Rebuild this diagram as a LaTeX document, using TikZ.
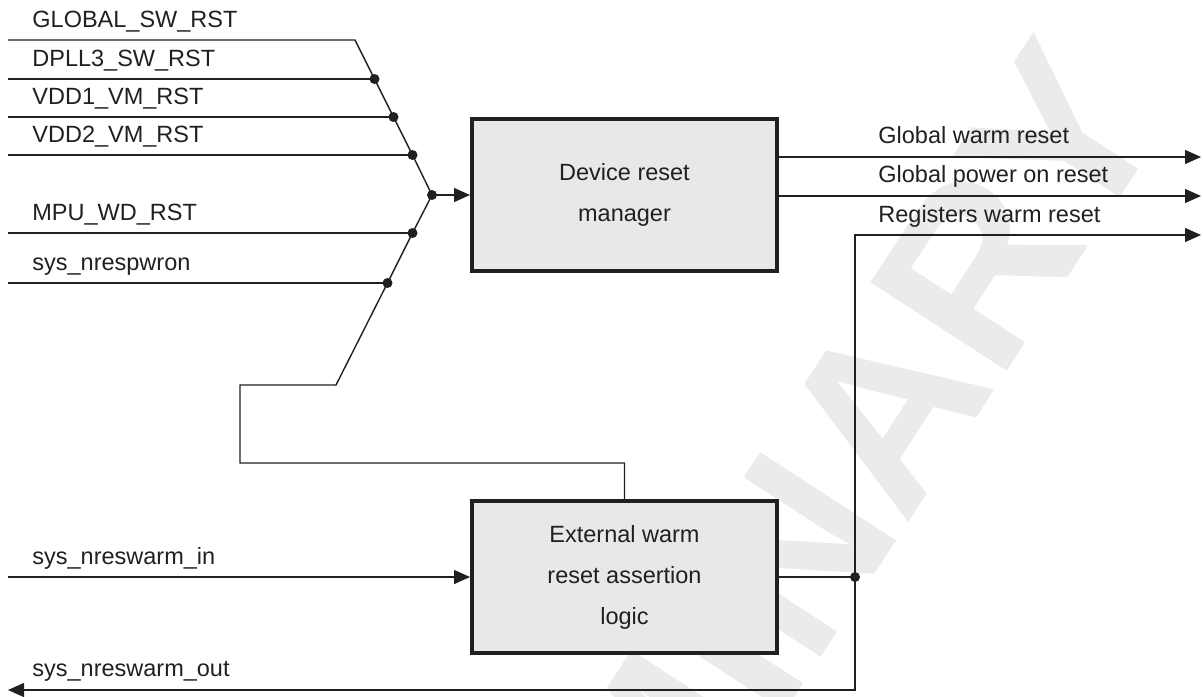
\documentclass[tikz,border=0pt]{standalone}
\usepackage{fontspec}
\setmainfont{Liberation Sans}
\usetikzlibrary{arrows.meta}
\definecolor{inkgray}{HTML}{231F20}
\definecolor{boxgray}{HTML}{E8E8EA}
\definecolor{wmgray}{HTML}{EBEBEB}
\tikzset{
  sig/.style    = {draw=inkgray,line width=0.7pt},
  sigarr/.style = {sig,-{Triangle[length=8pt,width=7pt]}},
  blk/.style    = {draw=inkgray,line width=2pt,fill=boxgray,minimum width=152.5pt,
                   minimum height=76pt,inner sep=0pt,align=center,text=inkgray,
                   font=\fontsize{11.75pt}{20.5pt}\selectfont},
  lbl/.style    = {anchor=base west,inner sep=0pt,text=inkgray,
                   font=\fontsize{11.75pt}{14pt}\selectfont},
  jdot/.style   = {fill=inkgray}
}

\begin{document}
\begin{tikzpicture}[x=0.5pt,y=-0.5pt]
  \useasboundingbox (0,0) rectangle (1203,696);
  \clip (0,0) rectangle (1203,696);
  % watermark
  \node[rotate=57,anchor=base east,inner sep=0pt,text=wmgray,
        font=\fontsize{118pt}{120pt}\bfseries\selectfont] (wm) at (1172,117) {PRELIMINARY};

  % blocks
  \node[blk] (drm) at (624.5,195) {Device reset\\manager};
  \node[blk] (ewr) at (624.5,577) {External warm\\reset assertion\\logic};

  % reset inputs
  \node[lbl] (lgsw)  at (32,27)  {GLOBAL\_SW\_RST};
  \node[lbl] (ldpll) at (32,66)  {DPLL3\_SW\_RST};
  \node[lbl] (lvdd1) at (32,104) {VDD1\_VM\_RST};
  \node[lbl] (lvdd2) at (32,142) {VDD2\_VM\_RST};
  \node[lbl] (lmpu)  at (32,220) {MPU\_WD\_RST};
  \node[lbl] (lpwr)  at (32,270) {sys\_nrespwron};
  \node[lbl] (lwin)  at (32,564) {sys\_nreswarm\_in};
  \node[lbl] (lwout) at (32,676) {sys\_nreswarm\_out};

  \coordinate (igsw)  at (8,40);
  \coordinate (idpll) at (8,79);
  \coordinate (ivdd1) at (8,117);
  \coordinate (ivdd2) at (8,155);
  \coordinate (impu)  at (8,233);
  \coordinate (ipwr)  at (8,283);
  \coordinate (iwin)  at (8,577);
  \coordinate (owout) at (8,690);

  \coordinate (bgsw)  at (355,40);
  \coordinate (jdpll) at (374.5,79);
  \coordinate (jvdd1) at (393.5,117);
  \coordinate (jvdd2) at (412.5,155);
  \coordinate (jmain) at (432,195);
  \coordinate (jmpu)  at (412.5,233);
  \coordinate (jpwr)  at (387.5,283);
  \coordinate (bfb)   at (336,385);
  \coordinate (cfb1)  at (240,385);
  \coordinate (cfb2)  at (240,463);

  \draw[sig] (igsw) -- (bgsw) -- (jdpll) -- (jvdd1) -- (jvdd2) -- (jmain);
  \draw[sig] (idpll) -- (jdpll);
  \draw[sig] (ivdd1) -- (jvdd1);
  \draw[sig] (ivdd2) -- (jvdd2);
  \draw[sig] (impu) -- (jmpu);
  \draw[sig] (ipwr) -- (jpwr);
  \draw[sig] (jmain) -- (jmpu) -- (jpwr) -- (bfb) -- (cfb1) -- (cfb2) -| (ewr.north);
  \draw[sigarr] (jmain) -- (drm.west);
  \draw[sigarr] (iwin) -- (ewr.west);
  \foreach \j in {jdpll,jvdd1,jvdd2,jmain,jmpu,jpwr}
    \fill[jdot] (\j) circle (2.5pt);

  % reset outputs
  \coordinate (ogwr) at (1201,157);
  \coordinate (ogpr) at (1201,196);
  \coordinate (orwr) at (1201,235);
  \coordinate (crwr) at (855,235);
  \coordinate (jrwr) at (855,577);
  \coordinate (cout) at (855,690);
  \node[lbl] (lgwr) at (878,143) {Global warm reset};
  \node[lbl] (lgpr) at (878,182) {Global power on reset};
  \node[lbl] (lrwr) at (878,222) {Registers warm reset};

  \draw[sigarr] (drm.east |- ogwr) -- (ogwr);
  \draw[sigarr] (drm.east |- ogpr) -- (ogpr);
  \draw[sig] (ewr.east) -- (jrwr);
  \draw[sigarr] (jrwr) -- (crwr) -- (orwr);
  \draw[sigarr] (jrwr) -- (cout) -- (owout);
  \fill[jdot] (jrwr) circle (2.5pt);
\end{tikzpicture}
\end{document}
